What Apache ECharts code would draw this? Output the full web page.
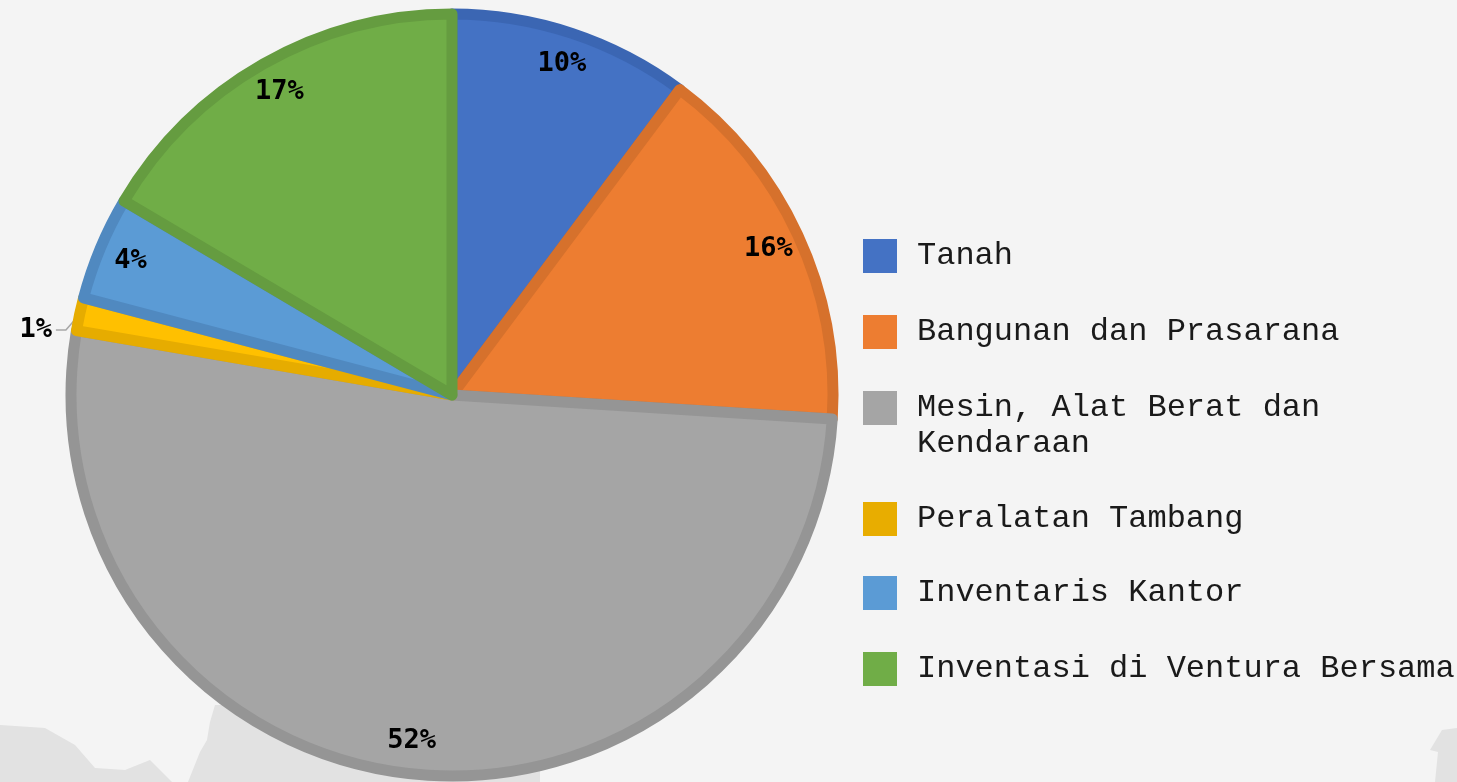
<!DOCTYPE html>
<html>
<head>
<meta charset="utf-8">
<script src="https://cdn.jsdelivr.net/npm/echarts@6/dist/echarts.min.js"></script>
<style>
  html, body { margin: 0; padding: 0; background: #f4f4f4; }
  #chart { width: 1457px; height: 782px; }
</style>
</head>
<body>
<div id="chart"></div>
<script>
// kategori aset dan porsinya (%)
const categories = [
  'Tanah',
  'Bangunan dan Prasarana',
  'Mesin, Alat Berat dan Kendaraan',
  'Peralatan Tambang',
  'Inventaris Kantor',
  'Inventasi di Ventura Bersama'
]
const shares = [10.2, 15.8, 51.7, 1.4, 4.4, 16.5]

// warna isi dan warna garis tepi tiap irisan
const fillColors = ['#4472c4', '#ed7d31', '#a5a5a5', '#ffc000', '#5b9bd5', '#70ad47']
const edgeColors = ['#3b66b3', '#d6712c', '#959595', '#e6ac00', '#5089c0', '#659c40']
const legendColors = ['#4472c4', '#ed7d31', '#a5a5a5', '#e8ad00', '#5b9bd5', '#70ad47']

// posisi atas kotak legenda
const legendIconTops = [239, 315, 391, 502, 576, 652]

const cx = 452
const cy = 395
const R = 381

const chart = echarts.init(document.getElementById('chart'))

const pctLabel = p => Math.round(p.percent) + '%'
const labelFont = {
  fontFamily: 'DejaVu Sans Mono',
  fontWeight: 'bold',
  fontSize: 27,
  color: '#000'
}

// irisan utama; hanya label 1% yang di luar
const mainData = categories.map((name, i) => ({
  name,
  value: shares[i],
  itemStyle: { color: fillColors[i], borderColor: edgeColors[i] },
  label: { show: i === 3 },
  labelLine: { show: i === 3 }
}))

// seri transparan untuk menaruh label di dekat tepi
const labelData = categories.map((name, i) => ({
  name,
  value: shares[i],
  label: { show: i !== 3 }
}))

const legends = categories.map((name, i) => {
  const twoLines = i === 2
  return {
    orient: 'vertical',
    left: 863,
    // item dua baris: baris kosong di atas supaya baris pertama sejajar kotak
    top: twoLines ? legendIconTops[i] - 37 : legendIconTops[i] - 1,
    padding: 0,
    icon: 'rect',
    itemWidth: 34,
    itemHeight: 34,
    selectedMode: false,
    data: [{ name, itemStyle: { color: legendColors[i], borderWidth: 0 } }],
    formatter: n => (twoLines ? ' \nMesin, Alat Berat dan\nKendaraan' : n),
    textStyle: {
      fontFamily: 'Liberation Mono',
      fontSize: 32,
      lineHeight: 36,
      color: '#1a1a1a',
      padding: [0, 0, 0, 15]
    }
  }
})

// label 1% diturunkan sedikit, garis penunjuk ikut turun
const dropLabel = 18
function shiftSmallLabel(params) {
  const pts = params.labelLinePoints
  if (!pts) return { dy: dropLabel }
  return {
    dy: dropLabel,
    labelLinePoints: [
      pts[0],
      [pts[1][0] - 4, pts[1][1] + dropLabel],
      [pts[2][0], pts[2][1] + dropLabel]
    ]
  }
}

const option = {
  backgroundColor: '#f4f4f4',
  animation: false,
  graphic: {
    elements: [
      {
        type: 'polygon',
        z: -10,
        shape: {
          points: [[0, 725], [45, 728], [75, 745], [95, 768], [125, 770], [150, 760], [172, 782], [0, 782]]
        },
        style: { fill: '#e2e2e2' }
      },
      {
        type: 'polygon',
        z: -10,
        shape: {
          points: [[188, 782], [200, 752], [207, 740], [210, 722], [215, 705], [540, 705], [540, 782]]
        },
        style: { fill: '#e2e2e2' }
      },
      {
        type: 'polygon',
        z: -10,
        shape: {
          points: [[1435, 782], [1438, 752], [1430, 750], [1442, 730], [1457, 728], [1457, 782]]
        },
        style: { fill: '#e2e2e2' }
      }
    ]
  },
  legend: legends,
  series: [
    {
      name: 'Aset',
      type: 'pie',
      center: [cx, cy],
      radius: R,
      startAngle: 90,
      clockwise: true,
      avoidLabelOverlap: false,
      itemStyle: { borderWidth: 11, borderJoin: 'round' },
      label: {
        position: 'outside',
        formatter: pctLabel,
        distanceToLabelLine: 4,
        ...labelFont
      },
      labelLine: {
        length: 10,
        length2: 14,
        lineStyle: { color: '#a6a6a6', width: 1.5 }
      },
      labelLayout: shiftSmallLabel,
      emphasis: { disabled: true },
      data: mainData
    },
    {
      name: 'Label',
      type: 'pie',
      center: [cx, cy],
      radius: [305, R + 5],
      startAngle: 90,
      clockwise: true,
      silent: true,
      itemStyle: { color: 'rgba(0,0,0,0)', borderWidth: 0 },
      label: {
        position: 'inside',
        formatter: pctLabel,
        ...labelFont
      },
      labelLine: { show: false },
      emphasis: { disabled: true },
      data: labelData
    }
  ]
}

chart.setOption(option)
</script>
</body>
</html>
